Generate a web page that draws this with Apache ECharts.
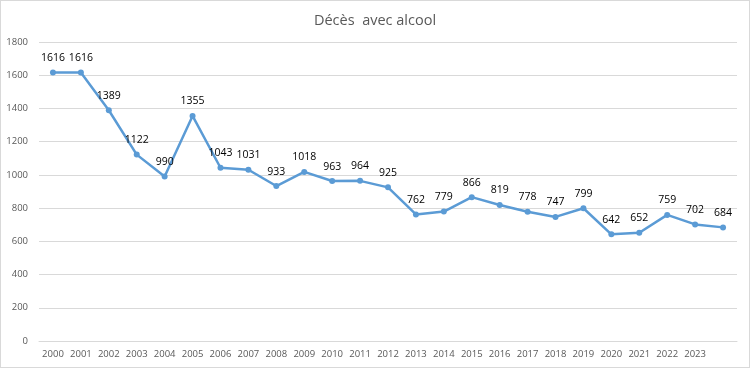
<!DOCTYPE html>
<html><head><meta charset="utf-8">
<script src="https://cdn.jsdelivr.net/npm/echarts@6/dist/echarts.min.js"></script>
<style>
html,body{margin:0;padding:0;background:#fff;}
#c{width:748px;height:366px;border:1px solid #d9d9d9;}
</style></head>
<body><div id="c"></div>
<script>
const years = ['2000','2001','2002','2003','2004','2005','2006','2007','2008','2009','2010','2011','2012','2013','2014','2015','2016','2017','2018','2019','2020','2021','2022','2023',''];
const deces = [1616,1616,1389,1122,990,1355,1043,1031,933,1018,963,964,925,762,779,866,819,778,747,799,642,652,759,702,684];
const yTicks = {min:0, max:1800, interval:200};

const chart = echarts.init(document.getElementById('c'));
chart.setOption({
  animation:false,
  title:{text:'Décès  avec alcool', left:'center', top:7,
    textStyle:{fontFamily:'Open Sans', fontSize:14.5, fontWeight:'normal', color:'#595959'}},
  grid:{left:38, right:12, top:41, bottom:26, containLabel:false},
  xAxis:{type:'category', data:years, boundaryGap:true,
    axisLine:{lineStyle:{color:'#d9d9d9'}}, axisTick:{show:false},
    axisLabel:{color:'#595959', fontFamily:'Open Sans', fontSize:9.5, margin:8, interval:0}},
  yAxis:{type:'value', min:yTicks.min, max:yTicks.max, interval:yTicks.interval,
    axisLine:{show:false}, axisTick:{show:false},
    splitLine:{lineStyle:{color:'#d9d9d9'}},
    axisLabel:{color:'#595959', fontFamily:'Open Sans', fontSize:9.5, margin:11,
      formatter:function(v){return String(v);}}},
  series:[{type:'line', data:deces, symbol:'circle', symbolSize:6,
    lineStyle:{color:'#5b9bd5', width:2.5}, itemStyle:{color:'#5b9bd5'},
    label:{show:true, position:'top', distance:6, color:'#000', fontFamily:'Open Sans', fontSize:10.5}}]
});
</script></body></html>
